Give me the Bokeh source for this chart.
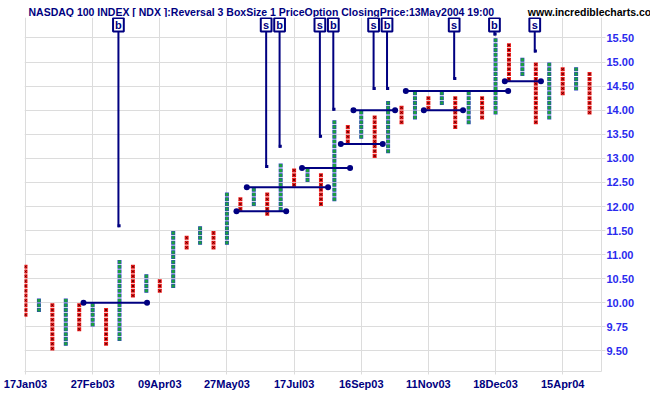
from bokeh.plotting import figure
from bokeh.layouts import column
from bokeh.models import Range1d, FixedTicker
from bokeh.embed import file_html
from bokeh.resources import INLINE
from bokeh.core.properties import value

# ---- Point & figure columns (box rows; column 0 is a falling column, then alternating)
col_low = [7, 8, 0, 1, 4, 5, 1, 2, 11, 12, 12, 13, 21, 22, 21, 22, 29, 30, 28, 29, 34, 35,
           30, 31, 43, 44, 40, 41, 47, 48, 50, 51, 46, 47, 48, 49, 56, 57, 47, 48, 53, 54, 49]
col_high = [17, 10, 9, 10, 9, 9, 8, 18, 17, 15, 14, 24, 23, 25, 24, 32, 31, 33, 32, 38, 37, 37,
            36, 47, 46, 49, 48, 51, 50, 53, 52, 53, 52, 53, 52, 64, 63, 60, 59, 59, 58, 58, 57]

# ---- axis ticks
x_tick_cols = [0, 5, 10, 15, 20, 25, 30, 35, 40]
x_tick_labels = ["17Jan03", "27Feb03", "09Apr03", "27May03", "17Jul03", "16Sep03",
                 "11Nov03", "18Dec03", "15Apr04"]
y_tick_rows = [0, 5, 10, 15, 20, 25, 30, 35, 40, 45, 50, 55, 60, 65]
y_tick_labels = ["9.50", "9.75", "10.00", "10.50", "11.00", "11.50", "12.00", "12.50",
                 "13.00", "13.50", "14.00", "14.50", "15.00", "15.50"]

# ---- horizontal signal lines (row level, start column, end column)
h_row = [10, 29, 34, 38, 43, 50, 54, 50, 56]
h_start = [4.32, 15.71, 16.48, 20.59, 23.48, 24.42, 28.32, 29.66, 35.69]
h_end = [9.05, 19.41, 22.53, 24.17, 26.60, 27.52, 35.94, 32.58, 38.38]

# ---- buy / sell signals (column, label, target row)
sig_col = [7, 18, 19, 22, 23, 26, 27, 32, 35, 38]
sig_lab = ["b", "s", "b", "s", "b", "s", "b", "s", "b", "s"]
sig_target = [25.7, 38.0, 42.2, 44.3, 49.9, 54.2, 54.2, 56.3, 65.5, 62.0]

title_text = "NASDAQ 100 INDEX [ NDX ]:Reversal 3 BoxSize 1 PriceOption ClosingPrice:13May2004 19:00"
site_text = "www.incrediblecharts.com"

NAVY = "#000080"
GRID = "#dcdcdc"
FONT = "Liberation Sans"

HDR_H = 17

# ---------------- header strip ----------------
hdr = figure(frame_width=650, frame_height=HDR_H, output_backend="svg", toolbar_location=None,
             x_range=Range1d(0, 650), y_range=Range1d(0, HDR_H),
             x_axis_location=None, y_axis_location=None,
             min_border_left=0, min_border_right=0, min_border_top=0, min_border_bottom=0)
hdr.outline_line_color = None
hdr.grid.visible = False
hdr.text([4], [HDR_H - 11.5], text=[title_text], text_align="left", text_baseline="alphabetic",
         text_font=value(FONT), text_font_style="bold", text_font_size="10.5px", text_color=NAVY)
hdr.text([636], [HDR_H - 11.5], text=[site_text], text_align="right", text_baseline="alphabetic",
         text_font=value(FONT), text_font_style="bold", text_font_size="10.5px", text_color="black")

# ---------------- main chart ----------------
px_per_row = 4.816
y_top = (350.5 - HDR_H) / px_per_row
y_bot = -4.26
p = figure(frame_width=577, frame_height=int(round((y_top - y_bot) * px_per_row)),
           output_backend="svg", toolbar_location=None,
           x_range=Range1d(-0.074, 42.89), y_range=Range1d(y_bot, y_top),
           x_axis_location="below", y_axis_location="right",
           min_border_left=24, min_border_right=49, min_border_top=0, min_border_bottom=23)
p.outline_line_color = None

p.xgrid.ticker = FixedTicker(ticks=x_tick_cols)
p.ygrid.ticker = FixedTicker(ticks=y_tick_rows)
p.grid.grid_line_color = GRID
p.grid.grid_line_width = 1

p.xaxis.ticker = FixedTicker(ticks=x_tick_cols)
p.xaxis.major_label_overrides = {c: l for c, l in zip(x_tick_cols, x_tick_labels)}
p.xaxis.axis_line_color = GRID
p.xaxis.major_tick_line_color = GRID
p.xaxis.major_tick_out = 3
p.xaxis.major_tick_in = 0
p.xaxis.minor_tick_line_color = None
p.xaxis.major_label_standoff = 3
p.xaxis.major_label_text_font = FONT
p.xaxis.major_label_text_font_style = "bold"
p.xaxis.major_label_text_font_size = "11px"
p.xaxis.major_label_text_color = NAVY

p.yaxis.ticker = FixedTicker(ticks=y_tick_rows)
p.yaxis.major_label_overrides = {r: l for r, l in zip(y_tick_rows, y_tick_labels)}
p.yaxis.axis_line_color = GRID
p.yaxis.major_tick_line_color = GRID
p.yaxis.major_tick_out = 4
p.yaxis.major_tick_in = 0
p.yaxis.minor_tick_line_color = None
p.yaxis.major_label_standoff = 1
p.yaxis.major_label_text_font = FONT
p.yaxis.major_label_text_font_style = "bold"
p.yaxis.major_label_text_font_size = "11px"
p.yaxis.major_label_text_color = "#2a2aee"

# boxes
dx, dy, ux, uy = [], [], [], []
for i, (lo, hi) in enumerate(zip(col_low, col_high)):
    falling = (i % 2 == 0)
    for b in range(lo, hi + 1):
        if falling:
            dx.append(i); dy.append(b + 0.5)
        else:
            ux.append(i); uy.append(b + 0.5)

p.scatter(dx, dy, marker="square", size=4, fill_color="#f01c1c", line_color=None)
p.scatter(dx, dy, marker="x", size=3, line_color="#5a0000", line_width=1)
p.scatter(ux, uy, marker="square", size=4, fill_color="#2a3fc0", line_color=None)
p.scatter(ux, uy, marker="square", size=3, fill_color="#1ca03c", line_color=None)

# horizontal signal lines with end dots
p.segment(h_start, h_row, h_end, h_row, line_color=NAVY, line_width=2)
p.scatter(h_start + h_end, h_row + h_row, marker="circle", size=6,
          fill_color=NAVY, line_color=None)

# vertical signal lines with labels
sx = [c - 0.08 for c in sig_col]
label_center = 67.75
label_h = 2.8
label_bottom = label_center - label_h / 2
p.segment(sx, [label_bottom] * len(sx), sx, sig_target, line_color=NAVY, line_width=2)
p.scatter([x + 0.05 for x in sx], [t + 0.3 for t in sig_target], marker="square", size=3,
          fill_color=NAVY, line_color=None)
p.rect(sx, [label_center] * len(sx), width=0.8, height=label_h, fill_color="white",
       line_color=NAVY, line_width=2)
p.text(sx, [label_center] * len(sx), text=sig_lab, text_align="center", text_baseline="middle",
       text_font=value(FONT), text_font_style="bold", text_font_size="11px", text_color=NAVY)

layout = column(hdr, p, spacing=0)
open("out.html", "w").write(file_html(layout, INLINE))
